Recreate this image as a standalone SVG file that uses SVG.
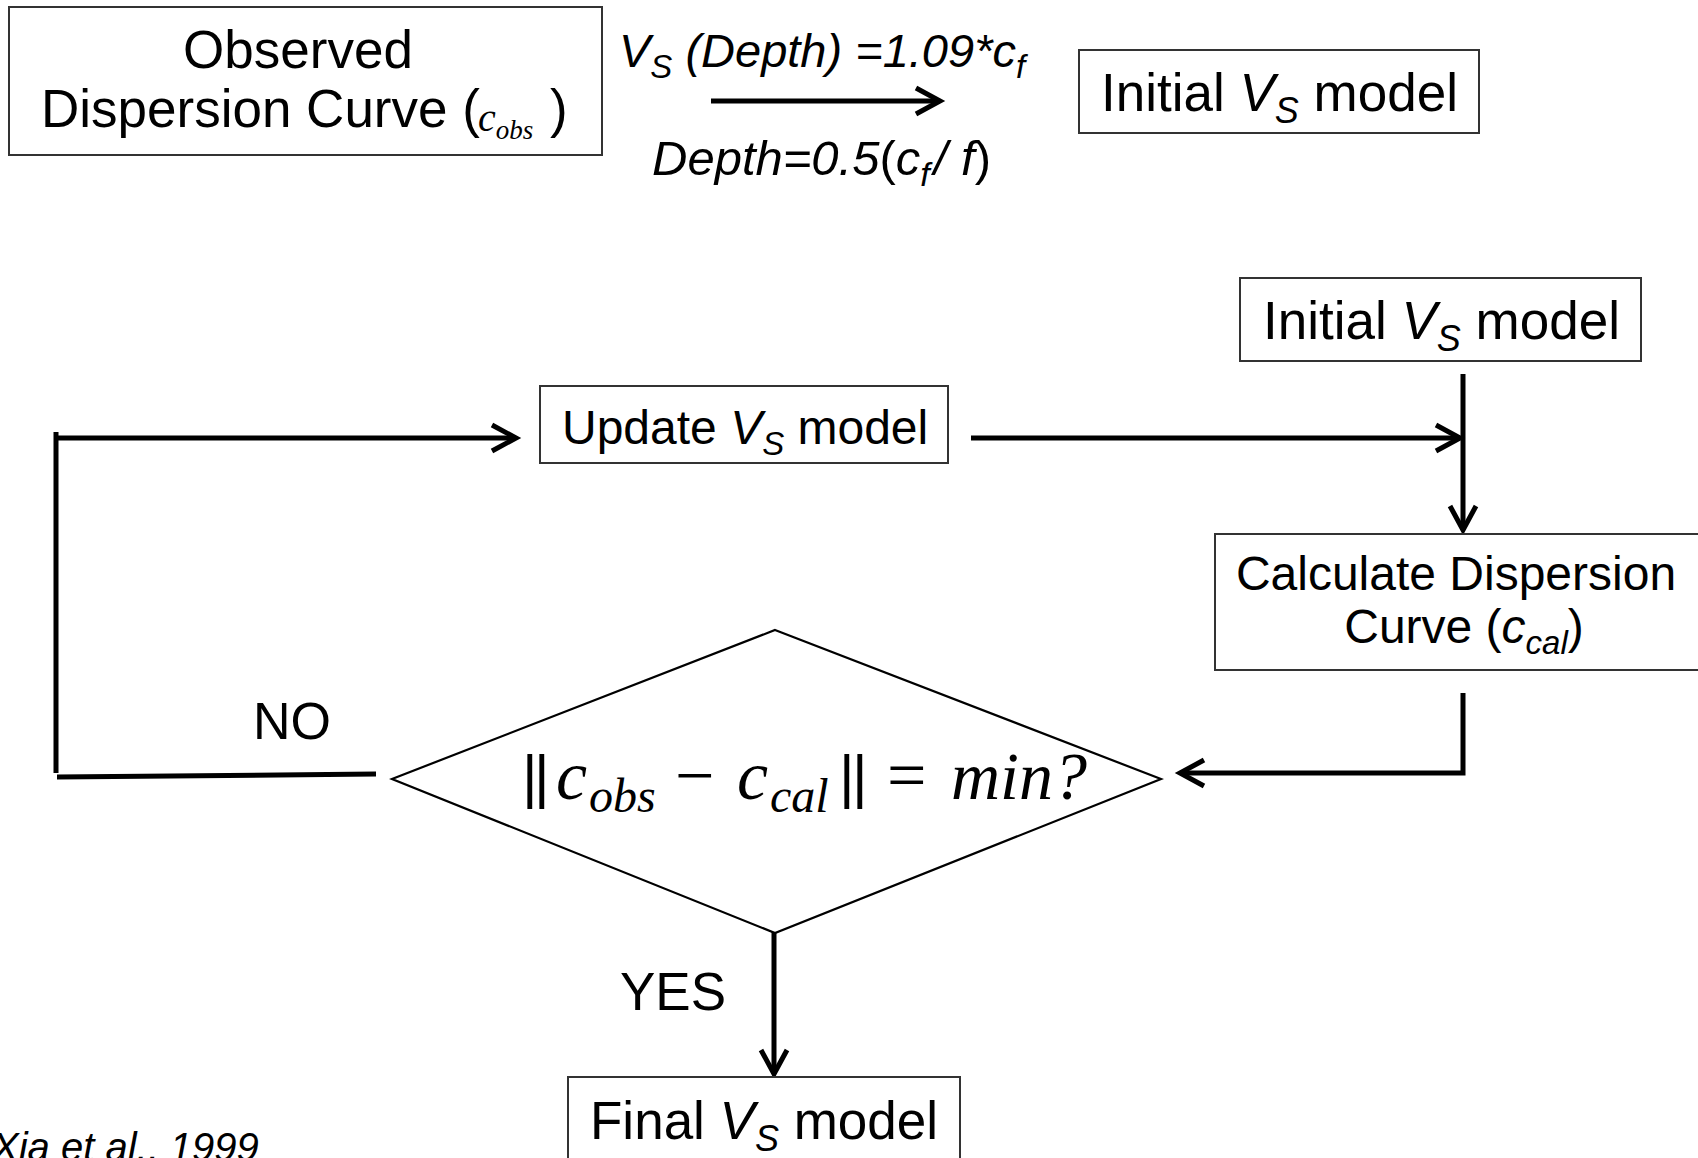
<svg xmlns="http://www.w3.org/2000/svg" width="1698" height="1158" viewBox="0 0 1698 1158">
  <style>
    .box { fill: #ffffff; stroke: #333333; stroke-width: 2; }
    .dia { fill: #ffffff; stroke: #000000; stroke-width: 2.2; }
    .wire { fill: none; stroke: #000000; stroke-width: 5; }
    .t { font-family: "Liberation Sans", Arial, sans-serif; font-size: 52px; fill: #000000; }
    .it { font-style: italic; }
    .up { font-style: normal; }
    .serif { font-family: "Liberation Serif", "Times New Roman", serif; }
    .bar { font-family: "Liberation Sans", Arial, sans-serif; font-style: normal; font-size: 60px; }
  </style>
  <defs>
    <marker id="head" markerUnits="userSpaceOnUse" markerWidth="40" markerHeight="40" viewBox="-30 -20 40 40" refX="0" refY="0" orient="auto" overflow="visible">
      <path d="M-24,-13 L0,0 L-24,13" fill="none" stroke="#000000" stroke-width="5" stroke-linejoin="miter"/>
    </marker>
  </defs>

  <rect width="1698" height="1158" fill="#ffffff"/>

  <!-- connectors -->
  <g id="connectors">
    <line class="wire" x1="711" y1="101" x2="940" y2="101" marker-end="url(#head)"/>
    <line class="wire" x1="1463" y1="374" x2="1463" y2="530" marker-end="url(#head)"/>
    <line class="wire" x1="971" y1="438" x2="1460" y2="438" marker-end="url(#head)"/>
    <polyline class="wire" points="1463,693 1463,773 1180,773" marker-end="url(#head)"/>
    <line class="wire" x1="56" y1="432" x2="56" y2="773"/>
    <line class="wire" x1="56" y1="438" x2="516" y2="438" marker-end="url(#head)"/>
    <line class="wire" x1="57" y1="777" x2="376" y2="774"/>
    <line class="wire" x1="774" y1="932" x2="774" y2="1074" marker-end="url(#head)"/>
  </g>

  <!-- relations written on the top arrow -->
  <g id="label-top">
    <text class="t it" x="619" y="67" style="font-size:47px">V<tspan style="font-size:33px" dy="11">S</tspan><tspan dy="-11"> (Depth) =1.09*c</tspan><tspan style="font-size:33px" dy="11">f</tspan></text>
    <text class="t it" x="652" y="175" style="font-size:49px">Depth=0.5<tspan class="up">(</tspan>c<tspan style="font-size:34px" dy="11">f</tspan><tspan dy="-11" dx="4">/ f</tspan><tspan class="up">)</tspan></text>
  </g>

  <g id="observed">
    <rect class="box" x="9" y="7" width="593" height="148"/>
    <text class="t" x="298" y="68" text-anchor="middle" style="font-size:53px">Observed</text>
    <text class="t" x="41" y="127" style="font-size:53px">Dispersion Curve (<tspan class="serif it" x="478" y="131" style="font-size:40px">c</tspan><tspan class="serif it" style="font-size:27px" dy="8">obs</tspan><tspan x="550" y="127">)</tspan></text>
  </g>

  <g id="initial-top">
    <rect class="box" x="1079" y="50" width="400" height="83"/>
    <text class="t" x="1101" y="111" style="font-size:53px">Initial <tspan class="it">V</tspan><tspan class="it" style="font-size:36px" dy="12">S</tspan><tspan dy="-12"> model</tspan></text>
  </g>

  <g id="initial">
    <rect class="box" x="1240" y="278" width="401" height="83"/>
    <text class="t" x="1263" y="339" style="font-size:53px">Initial <tspan class="it">V</tspan><tspan class="it" style="font-size:36px" dy="12">S</tspan><tspan dy="-12"> model</tspan></text>
  </g>

  <g id="update">
    <rect class="box" x="540" y="386" width="408" height="77"/>
    <text class="t" x="562" y="444" style="font-size:48px">Update <tspan class="it">V</tspan><tspan class="it" style="font-size:33px" dy="11">S</tspan><tspan dy="-11"> model</tspan></text>
  </g>

  <g id="calculate">
    <rect class="box" x="1215" y="534" width="500" height="136"/>
    <text class="t" x="1456" y="590" text-anchor="middle" style="font-size:48px">Calculate Dispersion</text>
    <text class="t" x="1464" y="643" text-anchor="middle" style="font-size:48px">Curve (<tspan class="it">c</tspan><tspan class="it" style="font-size:33px" dy="11">cal</tspan><tspan dy="-11">)</tspan></text>
  </g>

  <g id="decision">
    <polygon class="dia" points="775,630 1161,779 775,933 392,779"/>
    <text class="serif it" style="font-size:70px" fill="#000000"><tspan class="bar" x="522" y="797">|</tspan><tspan class="bar" x="534" y="797">|</tspan><tspan x="556" y="799">c</tspan><tspan x="589" y="812" style="font-size:48px">obs</tspan><tspan class="up" x="675" y="799">−</tspan><tspan x="737" y="799">c</tspan><tspan x="770" y="812" style="font-size:48px">cal</tspan><tspan class="bar" x="839" y="797">|</tspan><tspan class="bar" x="852" y="797">|</tspan><tspan class="up" x="887" y="799">=</tspan><tspan x="951" y="799" style="font-size:68px">min?</tspan></text>
  </g>

  <g id="labels">
    <text class="t" x="253" y="739">NO</text>
    <text class="t" x="620" y="1010" style="font-size:53px">YES</text>
    <text class="t it" x="-8" y="1161" style="font-size:40px">Xia et al., 1999</text>
  </g>

  <g id="final">
    <rect class="box" x="568" y="1077" width="392" height="100"/>
    <text class="t" x="590" y="1139" style="font-size:53px">Final <tspan class="it">V</tspan><tspan class="it" style="font-size:36px" dy="12">S</tspan><tspan dy="-12"> model</tspan></text>
  </g>
</svg>
